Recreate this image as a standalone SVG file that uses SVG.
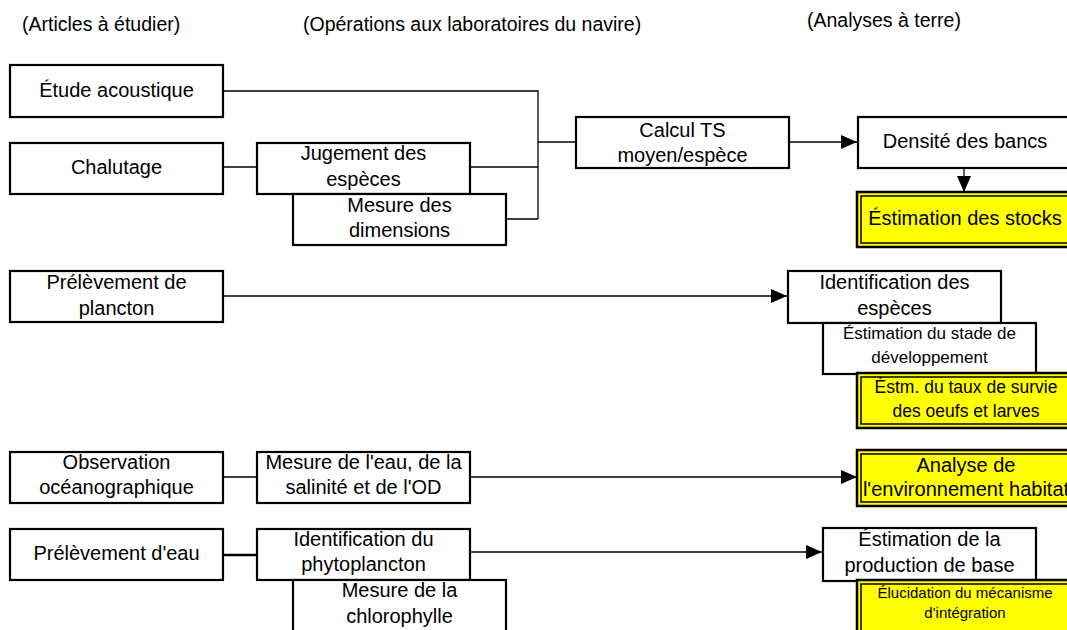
<svg xmlns="http://www.w3.org/2000/svg" width="1067" height="630" viewBox="0 0 1067 630">
<style>
.hdr{font-family:"Liberation Sans",Arial,sans-serif;font-size:19.5px;fill:#000}
.t{font-family:"Liberation Sans",Arial,sans-serif;font-size:20px;fill:#000;text-anchor:middle}
.s{font-size:17px}
.xs{font-size:15px}
.box{fill:#fff;stroke:#000;stroke-width:2.2}
.ybox{fill:#ffff00;stroke:#000;stroke-width:2.5}
.yin{fill:none;stroke:#000;stroke-width:1.5}
.c{fill:none;stroke:#000;stroke-width:1.3}
</style>
<defs>
<marker id="ah" viewBox="0 0 16 14" refX="16" refY="7" markerWidth="16" markerHeight="14" markerUnits="userSpaceOnUse" orient="auto">
<path d="M0,0 L16,7 L0,14 Z" fill="#000"/>
</marker>
</defs>
<rect width="1067" height="630" fill="#fff"/>

<g id="headers">
<text class="hdr" x="22" y="31">(Articles à étudier)</text>
<text class="hdr" x="303" y="31">(Opérations aux laboratoires du navire)</text>
<text class="hdr" x="807" y="27">(Analyses à terre)</text>
</g>

<g id="connectors">
<polyline class="c" points="223,91 538,91 538,219"/>
<line class="c" x1="470" y1="167" x2="538" y2="167"/>
<line class="c" x1="502" y1="219" x2="538" y2="219"/>
<line class="c" x1="538" y1="142" x2="576" y2="142"/>
<line class="c" x1="223" y1="167" x2="257" y2="167"/>
<line class="c" x1="789" y1="142" x2="857" y2="142" marker-end="url(#ah)"/>
<line class="c" x1="964" y1="168" x2="964" y2="192" marker-end="url(#ah)"/>
<line class="c" x1="223" y1="296" x2="787" y2="296" marker-end="url(#ah)"/>
<line class="c" x1="220" y1="477" x2="257" y2="477"/>
<line class="c" x1="470" y1="477" x2="857" y2="477" marker-end="url(#ah)"/>
<line class="c" x1="223" y1="555" x2="257" y2="555" style="stroke-width:2.5"/>
<line class="c" x1="470" y1="552" x2="822" y2="552" marker-end="url(#ah)"/>
</g>

<g id="etude">
<rect class="box" x="10" y="65" width="213" height="52"/>
<text class="t" x="116.5" y="97">Étude acoustique</text>
</g>
<g id="chalutage">
<rect class="box" x="10" y="143" width="213" height="51"/>
<text class="t" x="116.5" y="174">Chalutage</text>
</g>
<g id="jugement">
<rect class="box" x="257" y="143" width="213" height="51"/>
<text class="t" x="363.5" y="160">Jugement des</text>
<text class="t" x="363.5" y="186">espèces</text>
</g>
<g id="mesure-dim">
<rect class="box" x="293" y="194" width="213" height="51"/>
<text class="t" x="399.5" y="212">Mesure des</text>
<text class="t" x="399.5" y="237">dimensions</text>
</g>
<g id="calcul">
<rect class="box" x="576" y="117" width="213" height="51"/>
<text class="t" x="682.5" y="137">Calcul TS</text>
<text class="t" x="682.5" y="162">moyen/espèce</text>
</g>
<g id="densite">
<rect class="box" x="858" y="117" width="214" height="51"/>
<text class="t" x="965" y="148">Densité des bancs</text>
</g>
<g id="stocks">
<rect class="ybox" x="857" y="192" width="217" height="55"/>
<rect class="yin" x="861" y="196" width="213" height="47"/>
<text class="t" x="965" y="225">Éstimation des stocks</text>
</g>

<g id="plancton">
<rect class="box" x="10" y="271" width="213" height="51"/>
<text class="t" x="116.5" y="289">Prélèvement de</text>
<text class="t" x="116.5" y="315">plancton</text>
</g>
<g id="ident-especes">
<rect class="box" x="788" y="271" width="213" height="52"/>
<text class="t" x="894.5" y="289">Identification des</text>
<text class="t" x="894.5" y="315">espèces</text>
</g>
<g id="stade">
<rect class="box" x="823" y="323" width="213" height="51"/>
<text class="t s" x="929.5" y="339">Éstimation du stade de</text>
<text class="t s" x="929.5" y="363">développement</text>
</g>
<g id="survie">
<rect class="ybox" x="857" y="373" width="217" height="55"/>
<rect class="yin" x="861" y="377" width="213" height="47"/>
<text class="t" style="font-size:17.5px" x="966" y="393">Éstm. du taux de survie</text>
<text class="t" style="font-size:17.5px" x="966" y="417">des oeufs et larves</text>
</g>

<g id="observation">
<rect class="box" x="10" y="452" width="213" height="51"/>
<text class="t" x="116.5" y="469">Observation</text>
<text class="t" x="116.5" y="494">océanographique</text>
</g>
<g id="mesure-eau">
<rect class="box" x="257" y="452" width="213" height="51"/>
<text class="t" x="363.5" y="469">Mesure de l'eau, de la</text>
<text class="t" x="363.5" y="494">salinité et de l'OD</text>
</g>
<g id="analyse">
<rect class="ybox" x="857" y="450" width="217" height="56"/>
<rect class="yin" x="861" y="454" width="213" height="48"/>
<text class="t" x="966" y="472">Analyse de</text>
<text class="t" x="966" y="496">l'environnement habitat</text>
</g>

<g id="prelev-eau">
<rect class="box" x="10" y="529" width="213" height="51"/>
<text class="t" x="116.5" y="560">Prélèvement d'eau</text>
</g>
<g id="phyto">
<rect class="box" x="257" y="529" width="213" height="51"/>
<text class="t" x="363.5" y="546">Identification du</text>
<text class="t" x="363.5" y="571">phytoplancton</text>
</g>
<g id="chloro">
<rect class="box" x="293" y="580" width="213" height="55"/>
<text class="t" x="399.5" y="597">Mesure de la</text>
<text class="t" x="399.5" y="623">chlorophylle</text>
</g>
<g id="production">
<rect class="box" x="823" y="528" width="213" height="53"/>
<text class="t" x="929.5" y="546">Éstimation de la</text>
<text class="t" x="929.5" y="572">production de base</text>
</g>
<g id="elucidation">
<rect class="ybox" x="857" y="580" width="217" height="55"/>
<rect class="yin" x="861" y="584" width="213" height="47"/>
<text class="t xs" x="965" y="598">Élucidation du mécanisme</text>
<text class="t xs" x="965" y="618">d'intégration</text>
</g>
</svg>
